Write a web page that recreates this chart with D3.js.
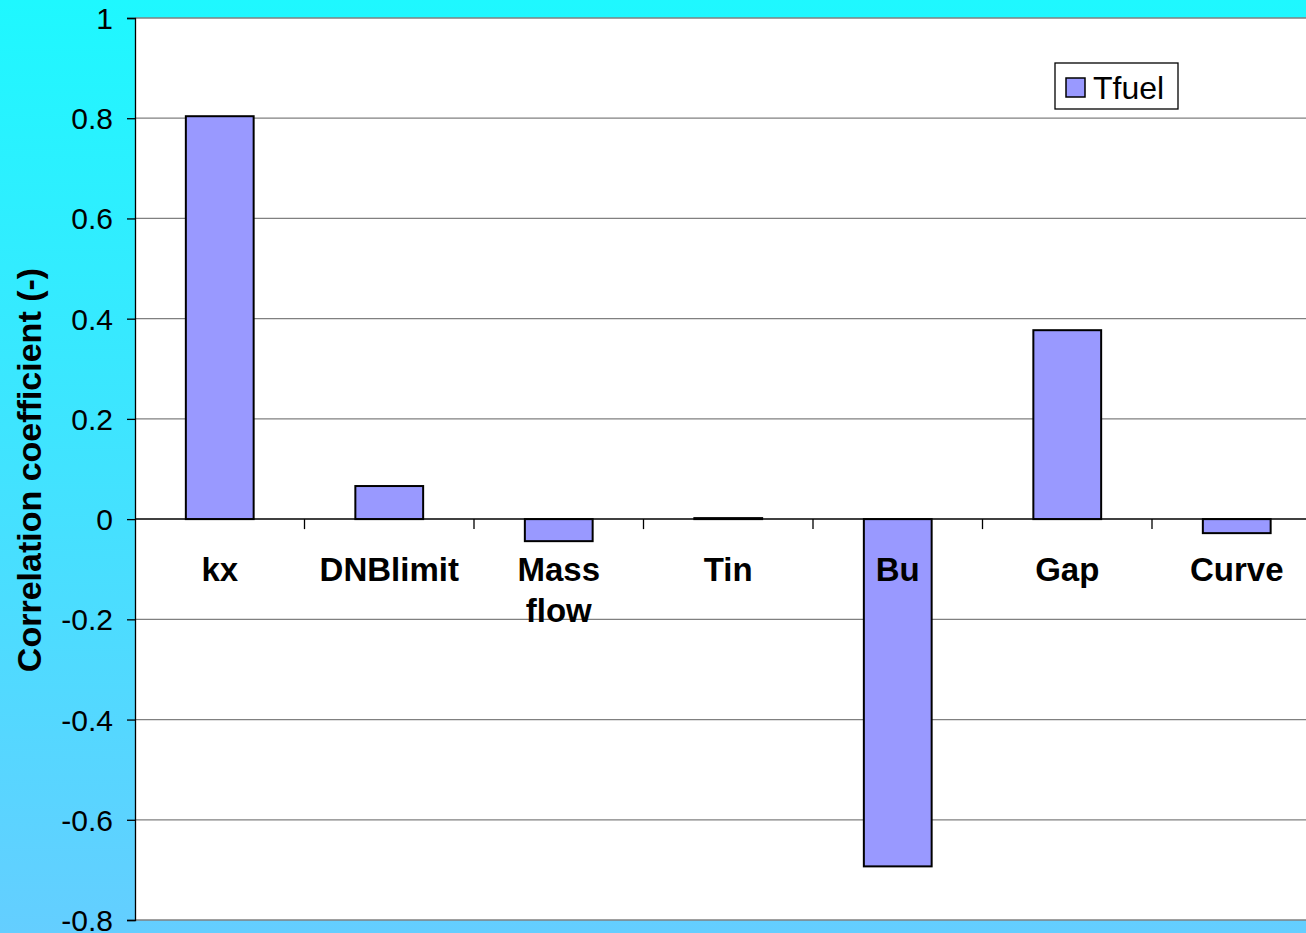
<!DOCTYPE html>
<html>
<head>
<meta charset="utf-8">
<script src="https://cdn.jsdelivr.net/npm/d3@7"></script>
<style>
  html, body { margin: 0; padding: 0; overflow: hidden; }
  svg { display: block; font-family: Arial, "Liberation Sans", sans-serif; }
</style>
</head>
<body>
<svg id="chart" width="1306" height="933"></svg>
<script>
// Correlation of fuel temperature with each input parameter
const categories = ["kx", "DNBlimit", "Mass flow", "Tin", "Bu", "Gap", "Curve"];
const tfuel = [0.804, 0.066, -0.044, 0.002, -0.693, 0.377, -0.028];
const yTicks = [1, 0.8, 0.6, 0.4, 0.2, 0, -0.2, -0.4, -0.6, -0.8];
const seriesName = "Tfuel";

const W = 1306, H = 933;
const plot = { left: 135, top: 18, right: 1321.5, bottom: 920 };
const FONT = "Arial, 'Liberation Sans', sans-serif";

const svg = d3.select("#chart");

// background gradient
const defs = svg.append("defs");
const grad = defs.append("linearGradient").attr("id", "bg")
  .attr("x1", 0).attr("y1", 0).attr("x2", 0).attr("y2", 1);
grad.append("stop").attr("offset", "0%").attr("stop-color", "#1ef8ff");
grad.append("stop").attr("offset", "100%").attr("stop-color", "#64ceff");
svg.append("rect").attr("width", W).attr("height", H).attr("fill", "url(#bg)");

// plot area
svg.append("rect")
  .attr("x", plot.left).attr("y", plot.top)
  .attr("width", plot.right - plot.left).attr("height", plot.bottom - plot.top)
  .attr("fill", "#ffffff");

const x = d3.scaleBand().domain(categories).range([plot.left, plot.right]).paddingInner(0).paddingOuter(0);
const y = d3.scaleLinear().domain([-0.8, 1]).range([plot.bottom, plot.top]);
const barW = x.bandwidth() / 2.5;

// gridlines
svg.append("g").selectAll("line").data(yTicks.filter(d => d !== 0)).join("line")
  .attr("x1", plot.left).attr("x2", plot.right)
  .attr("y1", d => y(d)).attr("y2", d => y(d))
  .attr("stroke", "#808080").attr("stroke-width", 1.3);

// y axis
const yAxis = d3.axisLeft(y).tickValues(yTicks).tickSize(8).tickPadding(14)
  .tickFormat(d => String(+d.toFixed(1)));
const gy = svg.append("g").attr("transform", `translate(${plot.left},0)`).call(yAxis)
  .attr("font-size", 30).attr("font-family", FONT);
gy.select(".domain").attr("stroke", "#000").attr("stroke-width", 1.3);
gy.selectAll(".tick line").attr("stroke", "#000").attr("stroke-width", 1.3);
gy.selectAll(".tick text").attr("fill", "#000").attr("dy", "0.35em");

// bars
svg.append("g").selectAll("rect").data(categories).join("rect")
  .attr("x", d => x(d) + (x.bandwidth() - barW) / 2)
  .attr("width", barW)
  .attr("y", (d, i) => y(Math.max(0, tfuel[i])))
  .attr("height", (d, i) => Math.abs(y(tfuel[i]) - y(0)))
  .attr("fill", "#9999ff")
  .attr("stroke", "#000").attr("stroke-width", 2);

// zero line and category ticks
svg.append("line")
  .attr("x1", plot.left).attr("x2", plot.right)
  .attr("y1", y(0)).attr("y2", y(0))
  .attr("stroke", "#000").attr("stroke-width", 1.5);
svg.append("g").selectAll("line").data(categories.slice(1)).join("line")
  .attr("x1", d => x(d)).attr("x2", d => x(d))
  .attr("y1", y(0)).attr("y2", y(0) + 10)
  .attr("stroke", "#000").attr("stroke-width", 1.3);

// category labels
const lbl = svg.append("g").selectAll("text").data(categories).join("text")
  .attr("x", d => x(d) + x.bandwidth() / 2)
  .attr("y", y(0) + 62)
  .attr("text-anchor", "middle")
  .attr("font-size", 33).attr("font-weight", "bold").attr("fill", "#000");
lbl.each(function(d) {
  const words = d === "Mass flow" ? ["Mass", "flow"] : [d];
  const t = d3.select(this);
  words.forEach((w, k) => {
    t.append("tspan").attr("x", x(d) + x.bandwidth() / 2)
      .attr("dy", k === 0 ? 0 : 41).text(w);
  });
});

// y axis title
svg.append("text")
  .attr("transform", `translate(41,${(plot.top + plot.bottom) / 2 + 1}) rotate(-90)`)
  .attr("text-anchor", "middle")
  .attr("font-size", 34).attr("font-weight", "bold").attr("fill", "#000")
  .text("Correlation coefficient (-)");

// legend
const lg = svg.append("g").attr("transform", "translate(1055,63)");
lg.append("rect").attr("width", 123).attr("height", 46)
  .attr("fill", "#fff").attr("stroke", "#000").attr("stroke-width", 1.3);
lg.append("rect").attr("x", 11).attr("y", 15).attr("width", 19).attr("height", 19)
  .attr("fill", "#9999ff").attr("stroke", "#000").attr("stroke-width", 1.5);
lg.append("text").attr("x", 38).attr("y", 36)
  .attr("font-size", 32).attr("fill", "#000").text(seriesName);
</script>
</body>
</html>
